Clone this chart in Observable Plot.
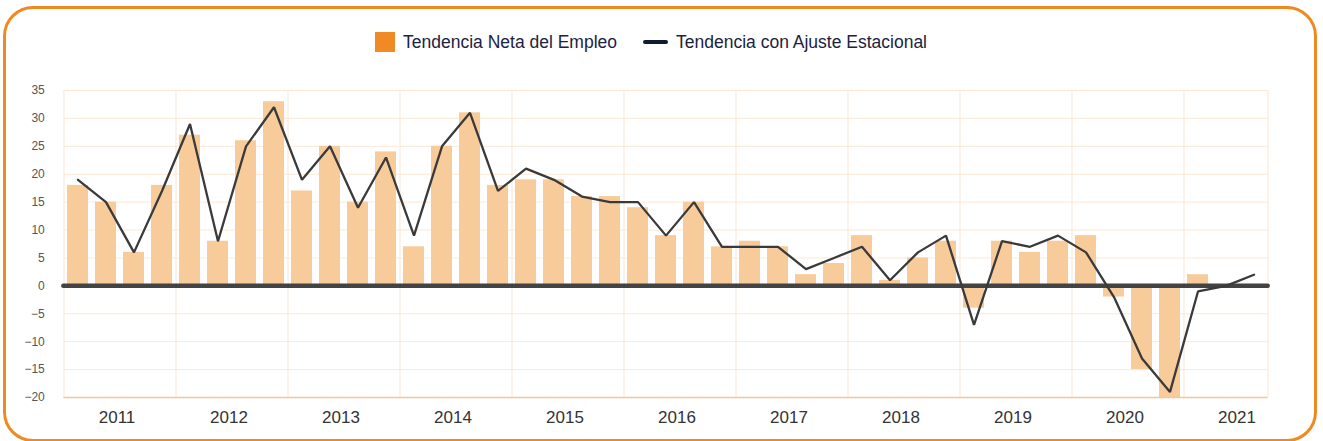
<!DOCTYPE html>
<html>
<head>
<meta charset="utf-8">
<script src="https://cdn.jsdelivr.net/npm/d3@7"></script>
<script src="https://cdn.jsdelivr.net/npm/@observablehq/plot@0.6"></script>
<style>
  body { margin: 0; background: #fff; font-family: "Liberation Sans", Arial, sans-serif; }
  #wrap { position: relative; width: 1323px; height: 441px; overflow: hidden; background: #fff; }
  #frame { position: absolute; left: 3px; top: 6px; width: 1314px; height: 436px; box-sizing: border-box;
           border: 3px solid #ef8a23; border-radius: 30px; pointer-events: none; }
  .leg { position: absolute; top: 31px; height: 22px; display: flex; align-items: center;
         font-size: 17.5px; color: #1b2340; white-space: nowrap; }
  .sw-bar { width: 20px; height: 20px; background: #f08a24; margin-right: 8px; }
  .sw-line { width: 25px; height: 4.5px; border-radius: 3px; background: #111a33; margin-right: 8px; }
  #chart { position: absolute; left: 0; top: 70px; }
</style>
</head>
<body>
<div id="wrap">
  <div id="frame"></div>
  <div class="leg" style="left:375px"><div class="sw-bar"></div><span>Tendencia Neta del Empleo</span></div>
  <div class="leg" style="left:643px"><div class="sw-line"></div><span>Tendencia con Ajuste Estacional</span></div>
  <div id="chart"></div>
</div>
<script>
// Categories
const years = [2011, 2012, 2013, 2014, 2015, 2016, 2017, 2018, 2019, 2020, 2021];
const quarters = ["T1", "T2", "T3", "T4"];
const periods = years.flatMap(y => quarters.map(q => `${y} ${q}`)).slice(0, 43);

// Series: Tendencia Neta del Empleo (bars)
const netTrend = [
  18, 15, 6, 18,
  27, 8, 26, 33,
  17, 25, 15, 24,
  7, 25, 31, 18,
  19, 19, 16, 16,
  14, 9, 15, 7,
  8, 7, 2, 4,
  9, 1, 5, 8,
  -4, 8, 6, 8,
  9, -2, -15, -20,
  2, null, null
];

// Series: Tendencia con Ajuste Estacional (line)
const seasonal = [
  19, 15, 6, 17,
  29, 8, 25, 32,
  19, 25, 14, 23,
  9, 25, 31, 17,
  21, 19, 16, 15,
  15, 9, 15, 7,
  7, 7, 3, 5,
  7, 1, 6, 9,
  -7, 8, 7, 9,
  6, -2, -13, -19,
  -1, 0, 2
];

// Tick values
const yTicks = [-20, -15, -10, -5, 0, 5, 10, 15, 20, 25, 30, 35];

const bars = periods.map((p, i) => ({p, v: netTrend[i]})).filter(d => d.v != null);
const line = periods.map((p, i) => ({p, v: seasonal[i]}));

const chart = Plot.plot({
  width: 1323,
  height: 371,
  marginLeft: 63.3,
  marginRight: 55.3,
  marginTop: 20,
  marginBottom: 44,
  style: {fontFamily: "'Liberation Sans', Arial, sans-serif", background: "transparent", overflow: "visible"},
  x: {type: "band", domain: periods, paddingInner: 0.25, paddingOuter: 0.125, axis: null},
  y: {domain: [-20, 35], axis: null},
  marks: [
    Plot.ruleY(yTicks.filter(t => t > -20), {stroke: "#fde8d6", strokeWidth: 1}),
    Plot.ruleX(years.map(y => `${y} T1`), {stroke: "#fbe4d2", strokeWidth: 1, dx: -14}),
    Plot.ruleX([periods[periods.length - 1]], {stroke: "#fbe4d2", strokeWidth: 1, dx: 14}),
    Plot.barY(bars, {x: "p", y: "v", fill: "#f8cb9b"}),
    Plot.ruleY([-20], {stroke: "#f7c596", strokeWidth: 1.5}),
    Plot.ruleY([0], {stroke: "#434343", strokeWidth: 4.5, strokeLinecap: "round"}),
    Plot.lineY(line, {x: "p", y: "v", stroke: "#3a3a3a", strokeWidth: 2.3, strokeLinejoin: "miter"}),
    Plot.axisY({ticks: yTicks, tickSize: 0, tickPadding: 19, fontSize: 12, color: "#555", label: null}),
    Plot.text(years.map(y => `${y} T2`), {
      x: d => d, text: d => d.slice(0, 4), frameAnchor: "bottom", dy: 20, dx: 11,
      fontSize: 17, fill: "#333", lineAnchor: "middle"
    })
  ]
});
document.getElementById("chart").appendChild(chart);
</script>
</body>
</html>
